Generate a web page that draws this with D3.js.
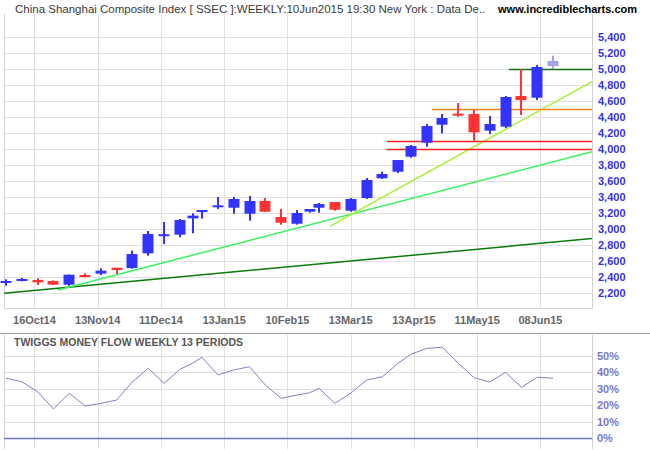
<!DOCTYPE html>
<html><head><meta charset="utf-8">
<script src="https://cdn.jsdelivr.net/npm/d3@7"></script>
<style>body{margin:0;background:#fff}svg{display:block;font-family:Arial,"Liberation Sans",sans-serif}</style>
</head><body><svg id="c" width="650" height="450"></svg>
<script>
// ---------- DATA ----------
const weeks = ["30Sep14","10Oct14","17Oct14","24Oct14","31Oct14","07Nov14","14Nov14","21Nov14","28Nov14","05Dec14","12Dec14","19Dec14","26Dec14","31Dec14","09Jan15","16Jan15","23Jan15","30Jan15","06Feb15","13Feb15","17Feb15","27Feb15","06Mar15","13Mar15","20Mar15","27Mar15","03Apr15","10Apr15","17Apr15","24Apr15","30Apr15","08May15","15May15","22May15","29May15","05Jun15","10Jun15"];
// trading days since previous bar (defines horizontal spacing)
const barDays = [0,5,5,5,5,5,5,5,5,5,5,5,4,3,5,5,5,5,5,5,4,3,5,5,5,5,5,4,5,5,5,5,5,5,5,5,5];
const openV  = [2325,2365,2362,2350,2304,2425,2442,2516,2512,2696,2925,2929,3133,3212,3271,3266,3191,3350,3150,3066,3217,3266,3337,3229,3387,3634,3716,3904,4079,4304,4442,4437,4229,4279,4662,4641,5037];
const highV  = [2371,2388,2384,2358,2429,2446,2509,2516,2729,2975,3087,3125,3196,3237,3400,3400,3412,3387,3250,3237,3250,3325,3337,3387,3637,3716,3862,4050,4312,4437,4575,4487,4412,4662,5000,5050,5166];
const lowV   = [2291,2346,2300,2300,2291,2396,2425,2438,2504,2666,2812,2896,2946,3129,3250,3191,3104,3216,3054,3054,3204,3204,3229,3216,3375,3625,3700,3891,4029,4196,4404,4104,4187,4262,4425,4612,5000];
const closeV = [2350,2375,2334,2304,2429,2420,2479,2488,2687,2937,2935,3112,3167,3237,3296,3375,3350,3216,3079,3200,3250,3312,3241,3375,3612,3687,3862,4037,4287,4387,4425,4208,4312,4650,4612,5025,5100];
const provisional = [false,false,false,false,false,false,false,false,false,false,false,false,false,false,false,false,false,false,false,false,false,false,false,false,false,false,false,false,false,false,false,false,false,false,false,false,true];
const moneyFlow = [36.4,34.3,28.2,17.8,27.3,19.6,21.2,23.2,34.3,42.4,33.3,41.8,45.5,49.1,38.4,41.4,43.4,32.3,24.2,26.2,27.6,30.3,21.2,27.3,35.3,37.3,45.5,50.9,54.5,55.2,45.5,36.7,34.1,40.0,30.9,37.0,36.4];
const priceTicks = [2200,2400,2600,2800,3000,3200,3400,3600,3800,4000,4200,4400,4600,4800,5000,5200,5400];
const dateTickLabels = ["16Oct14","13Nov14","11Dec14","13Jan15","10Feb15","13Mar15","13Apr15","11May15","08Jun15"];
const dateTickDays = [9,29,49,69,89,109,129,149,169];
const mfTicks = [0,10,20,30,40,50];
// trend lines: [tradingDay, price] endpoints
const trendStart = [[-0.63,2197],[16.4,2237],[102.5,3037]];
const trendEnd   = [[185.3,2881],[185.3,3966],[185.3,4841]];
// horizontal support / resistance levels
const levelValues = [5000,4500,4100,4000];
const levelStartDays = [159,134.7,120.5,120.3];

// ---------- LAYOUT ----------
const svg = d3.select("#c");
const L = 4, R = 592, T = 14, B = 308;
const L2T = 333.5, L2B = 449;
const C = {up:"#3333ff", down:"#ff3333", ghost:"#a3a3f0", grid:"#e0e0e0", frame:"#d0d0d0",
  axisBlue:"#3333ee", dateGrey:"#666", mf:"#8080c8", mfAxis:"#7878c8",
  trend:["#0a7a0a","#3cf060","#a8f030"], level:["#107010","#f08a20","#ff2020","#ff2020"]};

svg.append("rect").attr("width",650).attr("height",450).attr("fill","#fff");

// cumulative trading-day position of each bar
let acc = 0;
const bars = weeks.map((w,i)=>{ acc += barDays[i]; return {w, day:acc, o:openV[i], h:highV[i], l:lowV[i], c:closeV[i], p:provisional[i], mf:moneyFlow[i]}; });

const x = d3.scaleLinear().domain([-0.63,185.3]).range([L,R]);
const y = d3.scaleLinear().domain([2200,5400]).range([293,37]);
const y2 = d3.scaleLinear().domain([0,50]).range([438.3,355.8]);

// ---------- MAIN PANEL GRID ----------
const g = svg.append("g");
g.selectAll("line.hg").data(priceTicks).join("line")
  .attr("x1",L).attr("x2",R).attr("y1",d=>Math.round(y(d))+0.5).attr("y2",d=>Math.round(y(d))+0.5)
  .attr("stroke",C.grid);
g.selectAll("line.vg").data(dateTickDays).join("line")
  .attr("x1",d=>Math.round(x(d))+0.5).attr("x2",d=>Math.round(x(d))+0.5).attr("y1",T).attr("y2",B)
  .attr("stroke",C.grid);
g.append("path").attr("d",`M${L+0.5},${T}V${B+0.5}H${R+0.5}V${T}`).attr("fill","none").attr("stroke",C.frame);

g.selectAll("text.py").data(priceTicks).join("text")
  .attr("x",598).attr("y",d=>y(d)).attr("dy","0.36em")
  .attr("font-size",11).attr("font-weight","bold").attr("fill",C.axisBlue)
  .text(d=>d3.format(",")(d));
g.selectAll("text.dx").data(dateTickDays).join("text")
  .attr("x",d=>x(d)).attr("y",320).attr("dy","0.36em").attr("text-anchor","middle")
  .attr("font-size",11).attr("font-weight","bold").attr("fill",C.dateGrey)
  .text((d,i)=>dateTickLabels[i]);

// ---------- TREND LINES & LEVELS ----------
svg.append("clipPath").attr("id","clipMain").append("rect").attr("x",L).attr("y",T).attr("width",R-L).attr("height",B-T);
const gl = svg.append("g").attr("clip-path","url(#clipMain)");
gl.selectAll("line.tr").data(trendStart).join("line")
  .attr("x1",d=>x(d[0])).attr("y1",d=>y(d[1]))
  .attr("x2",(d,i)=>x(trendEnd[i][0])).attr("y2",(d,i)=>y(trendEnd[i][1]))
  .attr("stroke",(d,i)=>C.trend[i]).attr("stroke-width",1.5);
gl.selectAll("line.lv").data(levelValues).join("line")
  .attr("x1",(d,i)=>x(levelStartDays[i])).attr("x2",R)
  .attr("y1",d=>Math.round(y(d))+0.5).attr("y2",d=>Math.round(y(d))+0.5)
  .attr("stroke",(d,i)=>C.level[i]).attr("stroke-width",1.3);

// ---------- CANDLES ----------
const bw = 11;
const cg = svg.append("g");
const col = d => d.p ? C.ghost : (d.c >= d.o ? C.up : C.down);
cg.selectAll("rect.wick").data(bars).join("rect")
  .attr("x",d=>Math.round(x(d.day))-1).attr("width",2)
  .attr("y",d=>y(d.h)).attr("height",d=>Math.max(1,y(d.l)-y(d.h)))
  .attr("fill",col);
cg.selectAll("rect.body").data(bars).join("rect")
  .attr("x",d=>Math.round(x(d.day))-bw/2).attr("width",bw)
  .attr("y",d=>y(Math.max(d.o,d.c))).attr("height",d=>Math.max(2,Math.abs(y(d.o)-y(d.c))))
  .attr("fill",col);

// ---------- TITLE ----------
svg.append("text").attr("x",15).attr("y",13).attr("font-size",11.5).attr("fill","#3a3a3a")
  .text("China Shanghai Composite Index [ SSEC ]:WEEKLY:10Jun2015 19:30 New York : Data De..");
svg.append("text").attr("x",637).attr("y",13).attr("text-anchor","end").attr("font-size",11).attr("font-weight","bold").attr("fill","#000")
  .text("www.incrediblecharts.com");

// ---------- LOWER PANEL ----------
svg.append("line").attr("x1",0).attr("x2",650).attr("y1",L2T).attr("y2",L2T).attr("stroke","#a0a0a0");
const g2 = svg.append("g");
g2.selectAll("line.hg2").data(mfTicks.filter(d=>d>0)).join("line")
  .attr("x1",L).attr("x2",R).attr("y1",d=>Math.round(y2(d))+0.5).attr("y2",d=>Math.round(y2(d))+0.5)
  .attr("stroke",C.grid);
g2.selectAll("line.vg2").data(dateTickDays).join("line")
  .attr("x1",d=>Math.round(x(d))+0.5).attr("x2",d=>Math.round(x(d))+0.5).attr("y1",L2T+1).attr("y2",L2B)
  .attr("stroke",C.grid);
g2.append("line").attr("x1",R+0.5).attr("x2",R+0.5).attr("y1",L2T+1).attr("y2",L2B).attr("stroke",C.frame);
g2.append("line").attr("x1",L+0.5).attr("x2",L+0.5).attr("y1",L2T+1).attr("y2",L2B).attr("stroke",C.frame);
g2.append("line").attr("x1",L).attr("x2",R).attr("y1",Math.round(y2(0))+0.5).attr("y2",Math.round(y2(0))+0.5)
  .attr("stroke","#7070c8").attr("stroke-width",1.3);
g2.selectAll("text.my").data(mfTicks).join("text")
  .attr("x",597).attr("y",d=>y2(d)).attr("dy","0.36em")
  .attr("font-size",11).attr("font-weight","bold").attr("fill",C.mfAxis)
  .text(d=>d+"%");
g2.append("text").attr("x",14).attr("y",345.5).attr("font-size",10.5).attr("font-weight","bold").attr("fill","#555")
  .text("TWIGGS MONEY FLOW WEEKLY 13 PERIODS");
g2.append("path").datum(bars)
  .attr("d",d3.line().x(d=>x(d.day)).y(d=>y2(d.mf)))
  .attr("fill","none").attr("stroke",C.mf).attr("stroke-width",1);
</script></body></html>
